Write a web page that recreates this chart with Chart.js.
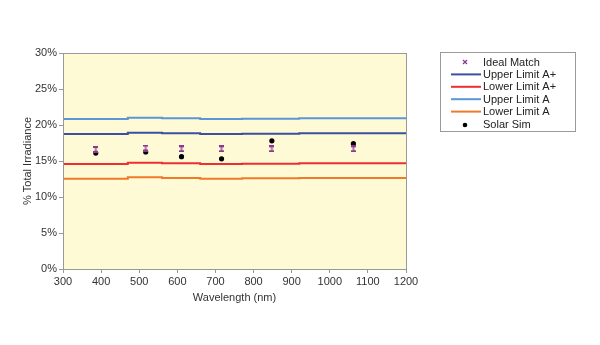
<!DOCTYPE html>
<html>
<head>
<meta charset="utf-8">
<script src="https://cdn.jsdelivr.net/npm/chart.js@4"></script>
<style>
  html, body { margin: 0; padding: 0; background: #fff; }
  #wrap { width: 600px; height: 345px; }
</style>
</head>
<body>
<div id="wrap"><canvas id="grafica"></canvas></div>
<script>
// wavelengths of the measured bands (nm)
var bandas = [386, 517, 611, 716, 848, 1062];
var idealMatch = [16.6, 16.8, 16.7, 16.7, 16.7, 16.7];
var solarSim = [16.1, 16.25, 15.6, 15.3, 17.8, 17.4];

// limits are stepped, one value per band edge
var bordes = [300, 470, 560, 660, 770, 920, 1200];
var upperAplus = [18.75, 18.93, 18.84, 18.75, 18.8, 18.84, 18.84];
var lowerAplus = [14.58, 14.77, 14.68, 14.58, 14.63, 14.68, 14.68];
var upperA = [20.83, 21.0, 20.93, 20.83, 20.88, 20.93, 20.93];
var lowerA = [12.54, 12.73, 12.64, 12.54, 12.59, 12.64, 12.64];

var xTicks = [300, 400, 500, 600, 700, 800, 900, 1000, 1100, 1200];
var fuente = "'Liberation Sans', Arial, Helvetica, sans-serif";

function puntos(xs, ys) {
  var out = [];
  for (var i = 0; i < xs.length; i++) out.push({x: xs[i], y: ys[i]});
  return out;
}

// little purple hourglass used for the ideal match marker
function marcaIdeal() {
  var c = document.createElement('canvas');
  c.width = 5; c.height = 7;
  var ctx = c.getContext('2d');
  ctx.fillStyle = '#8a3a8c';
  ctx.fillRect(0, 0, 5, 2);
  ctx.fillRect(0, 5, 5, 2);
  ctx.fillStyle = '#b06aae';
  ctx.fillRect(1.5, 2, 2, 3);
  return c;
}

var fondo = {
  id: 'fondo',
  beforeDraw: function(chart) {
    var a = chart.chartArea, ctx = chart.ctx;
    ctx.save();
    ctx.fillStyle = '#fffad6';
    ctx.fillRect(a.left, a.top, a.right - a.left, a.bottom - a.top);
    ctx.restore();
  },
  afterDraw: function(chart) {
    var a = chart.chartArea, ctx = chart.ctx;
    ctx.save();
    ctx.strokeStyle = '#999';
    ctx.lineWidth = 1;
    ctx.strokeRect(a.left + 0.5, a.top + 0.5, a.right - a.left, a.bottom - a.top);

    // legend box
    var lx = 440.5, ly = 52.5, lw = 135, lh = 79;
    ctx.strokeStyle = '#9a9a9a';
    ctx.strokeRect(lx, ly, lw, lh);
    ctx.font = '11px ' + fuente;
    ctx.textBaseline = 'middle';
    var orden = [0, 2, 3, 4, 5, 1];
    for (var i = 0; i < orden.length; i++) {
      var ds = chart.data.datasets[orden[i]];
      var y = 62 + i * 12.4;
      if (ds.showLine === false) {
        if (ds.pointStyle === 'circle') {
          ctx.fillStyle = '#000';
          ctx.beginPath();
          ctx.arc(465, y + 1, 2.3, 0, Math.PI * 2);
          ctx.fill();
        } else {
          ctx.strokeStyle = '#8a3a8c';
          ctx.lineWidth = 1.3;
          ctx.beginPath();
          ctx.moveTo(463, y - 2); ctx.lineTo(467, y + 2);
          ctx.moveTo(467, y - 2); ctx.lineTo(463, y + 2);
          ctx.stroke();
        }
      } else {
        ctx.strokeStyle = ds.borderColor;
        ctx.lineWidth = 2;
        ctx.beginPath();
        ctx.moveTo(451, y); ctx.lineTo(481, y);
        ctx.stroke();
      }
      ctx.fillStyle = '#222';
      ctx.fillText(ds.label, 483, y + 0.5);
    }
    ctx.restore();
  }
};

var lineaLimite = function(label, color, datos) {
  return {
    label: label,
    data: puntos(bordes, datos),
    borderColor: color,
    backgroundColor: color,
    borderWidth: 2,
    stepped: 'before',
    pointRadius: 0,
    showLine: true,
    fill: false
  };
};

new Chart(document.getElementById('grafica'), {
  type: 'scatter',
  data: {
    datasets: [
      {
        label: 'Ideal Match',
        data: puntos(bandas, idealMatch),
        pointStyle: marcaIdeal(),
        showLine: false,
        order: 0
      },
      {
        label: 'Solar Sim',
        data: puntos(bandas, solarSim),
        pointStyle: 'circle',
        pointRadius: 2.6,
        backgroundColor: '#000',
        borderColor: '#000',
        borderWidth: 0,
        showLine: false,
        order: 0
      },
      lineaLimite('Upper Limit A+', '#3a50a0', upperAplus),
      lineaLimite('Lower Limit A+', '#ee2f2f', lowerAplus),
      lineaLimite('Upper Limit A', '#5b96d8', upperA),
      lineaLimite('Lower Limit A', '#f07a2a', lowerA)
    ]
  },
  options: {
    responsive: true,
    maintainAspectRatio: false,
    animation: false,
    layout: { padding: { left: 17, right: 194, top: 53, bottom: 36 } },
    plugins: {
      legend: { display: false },
      tooltip: { enabled: false }
    },
    scales: {
      x: {
        type: 'linear',
        min: 300,
        max: 1200,
        afterBuildTicks: function(s) { s.ticks = xTicks.map(function(v) { return {value: v}; }); },
        afterFit: function(s) { s.height = 40; },
        grid: { drawOnChartArea: false, drawTicks: true, tickLength: 4, color: '#999' },
        border: { color: '#999' },
        ticks: { color: '#333', font: { family: fuente, size: 11 }, padding: 2, maxRotation: 0,
          callback: function(v) { return String(v); } },
        title: { display: true, text: 'Wavelength (nm)', color: '#333', font: { family: fuente, size: 11 }, padding: { top: 2 } }
      },
      y: {
        min: 0,
        max: 30,
        afterFit: function(s) { s.width = 46; },
        grid: { drawOnChartArea: false, drawTicks: true, tickLength: 4, color: '#999' },
        border: { color: '#999' },
        ticks: { stepSize: 5, color: '#333', font: { family: fuente, size: 11 }, padding: 2,
          callback: function(v) { return v + '%'; } },
        title: { display: true, text: '% Total Irradiance', color: '#333', font: { family: fuente, size: 11 }, padding: { bottom: 0 } }
      }
    }
  },
  plugins: [fondo]
});
</script>
</body>
</html>
